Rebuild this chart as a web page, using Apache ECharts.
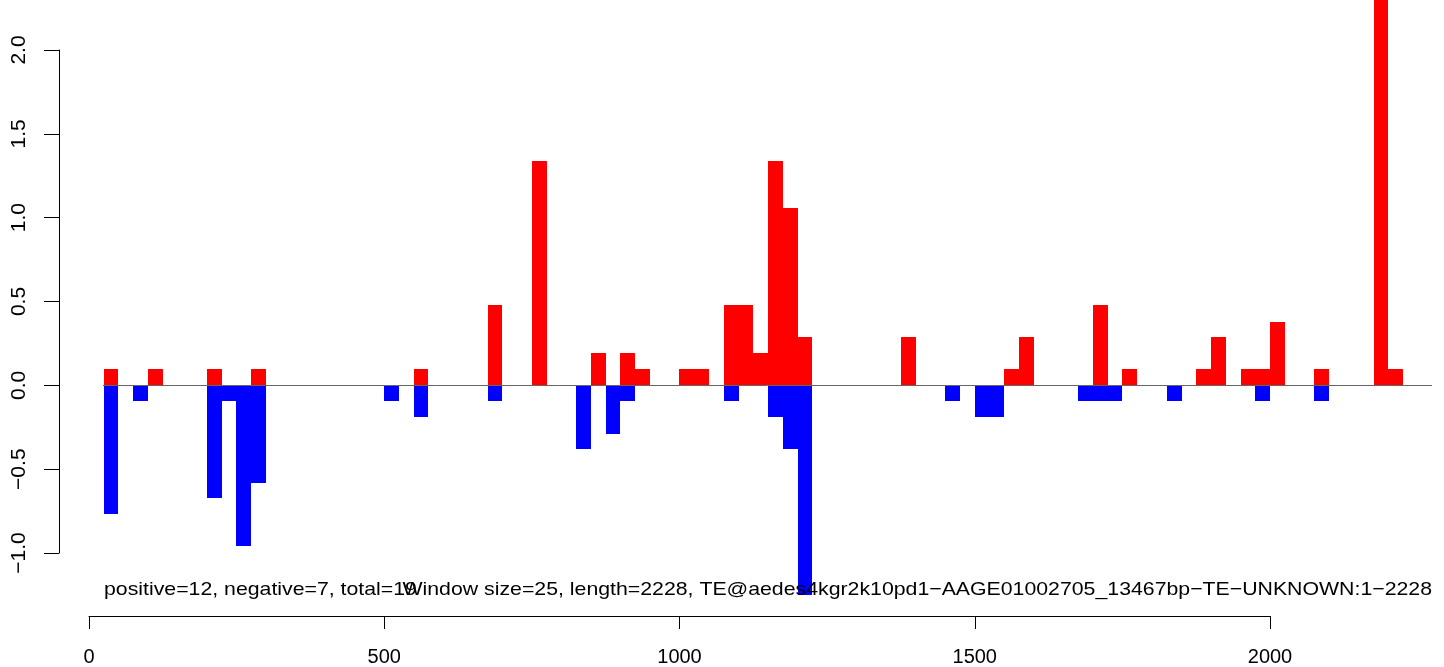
<!DOCTYPE html>
<html>
<head>
<meta charset="utf-8">
<script src="https://cdn.jsdelivr.net/npm/echarts@6/dist/echarts.min.js"></script>
<style>
html,body{margin:0;padding:0;background:#fff;}
#chart{width:1444px;height:667px;}
</style>
</head>
<body>
<div id="chart"></div>
<script>
// ---- data ----
const windowSize = 25;
const posStarts = [25, 100, 200, 275, 550, 675, 750, 850, 900, 925, 1000, 1025, 1075, 1100, 1125, 1150, 1175, 1200, 1375, 1550, 1575, 1700, 1750, 1875, 1900, 1950, 1975, 2000, 2075, 2175, 2200];
const posValues = [0.096, 0.096, 0.096, 0.096, 0.096, 0.48, 1.34, 0.19, 0.19, 0.096, 0.096, 0.096, 0.48, 0.48, 0.19, 1.34, 1.06, 0.29, 0.29, 0.096, 0.29, 0.48, 0.096, 0.096, 0.29, 0.096, 0.096, 0.38, 0.096, 2.49, 0.096];
const negStarts = [25, 75, 200, 225, 250, 275, 500, 550, 675, 825, 875, 900, 1075, 1150, 1175, 1200, 1450, 1500, 1525, 1675, 1700, 1725, 1825, 1975, 2075];
const negValues = [-0.77, -0.096, -0.67, -0.096, -0.96, -0.58, -0.096, -0.19, -0.096, -0.38, -0.29, -0.096, -0.096, -0.19, -0.38, -1.25, -0.096, -0.19, -0.19, -0.096, -0.096, -0.096, -0.096, -0.096, -0.096];
const xTicks = [0, 500, 1000, 1500, 2000];
const yTicks = [-1.0, -0.5, 0.0, 0.5, 1.0, 1.5, 2.0];
const infoLeft = "positive=12, negative=7, total=19";
const infoRight = "Window size=25, length=2228, TE@aedes4kgr2k10pd1\u2212AAGE01002705_13467bp\u2212TE\u2212UNKNOWN:1\u22122228";

const FONT = '"Liberation Sans", Arial, Helvetica, sans-serif';
const fmtY = v => (v < 0 ? '\u2212' : '') + Math.abs(v).toFixed(1);
const fmtX = v => String(Math.round(v));

function barRenderer(color) {
  return function (params, api) {
    const s = api.value(0), v = api.value(1);
    const p0 = api.coord([s, 0]);
    const p1 = api.coord([s + windowSize, v]);
    const x0 = Math.round(p0[0]), x1 = Math.round(p1[0]);
    const ya = Math.round(Math.min(p0[1], p1[1])), yb = Math.round(Math.max(p0[1], p1[1]));
    return {
      type: 'rect',
      shape: { x: x0, y: ya, width: x1 - x0, height: yb - ya },
      style: { fill: color, stroke: null }
    };
  };
}

const chart = echarts.init(document.getElementById('chart'), null, { renderer: 'canvas' });
chart.setOption({
  animation: false,
  backgroundColor: '#ffffff',
  textStyle: { fontFamily: FONT },
  grid: [
    { left: 103, right: 12, top: 50, bottom: 114 },
    { left: 89, right: 174, top: 50, bottom: 48 }
  ],
  xAxis: [
    { type: 'value', gridIndex: 0, min: 24, max: 2274, show: false },
    {
      type: 'value', gridIndex: 1, min: xTicks[0], max: xTicks[xTicks.length - 1], interval: 500,
      axisLine: { show: true, onZero: false, lineStyle: { color: '#000', width: 1 } },
      axisTick: { show: true, length: 13, lineStyle: { color: '#000', width: 1 } },
      axisLabel: { show: true, color: '#000', fontSize: 20, fontFamily: FONT, margin: 31, formatter: fmtX },
      splitLine: { show: false }
    }
  ],
  yAxis: [
    {
      type: 'value', gridIndex: 0, min: yTicks[0], max: yTicks[yTicks.length - 1], interval: 0.5,
      offset: 44,
      axisLine: { show: true, lineStyle: { color: '#000', width: 1 } },
      axisTick: { show: true, length: 15, lineStyle: { color: '#000', width: 1 } },
      axisLabel: { show: true, color: '#000', fontSize: 21, fontFamily: FONT, rotate: 90, margin: 29, formatter: fmtY },
      splitLine: { show: false }
    },
    { type: 'value', gridIndex: 1, show: false }
  ],
  graphic: [
    { type: 'text', x: 104, y: 590, scaleX: 1.12, z: 100,
      style: { text: infoLeft, font: '19px ' + FONT, fill: '#000', align: 'left', verticalAlign: 'middle', textAlign: 'left', textVerticalAlign: 'middle' } },
    { type: 'text', x: 1432, y: 590, scaleX: 1.12, z: 100,
      style: { text: infoRight, font: '19px ' + FONT, fill: '#000', align: 'right', verticalAlign: 'middle', textAlign: 'right', textVerticalAlign: 'middle' } }
  ],
  series: [
    {
      type: 'line', xAxisIndex: 0, yAxisIndex: 0, data: [], z: 1,
      markLine: {
        silent: true, symbol: ['none', 'none'], label: { show: false },
        lineStyle: { color: '#666', width: 1, type: 'solid' },
        data: [{ yAxis: 0 }]
      }
    },
    {
      type: 'custom', xAxisIndex: 0, yAxisIndex: 0, clip: false, z: 2,
      renderItem: barRenderer('#FF0000'),
      data: posStarts.map((s, i) => [s, posValues[i]])
    },
    {
      type: 'custom', xAxisIndex: 0, yAxisIndex: 0, clip: false, z: 2,
      renderItem: barRenderer('#0000FF'),
      data: negStarts.map((s, i) => [s, negValues[i]])
    }
  ]
});
</script>
</body>
</html>
